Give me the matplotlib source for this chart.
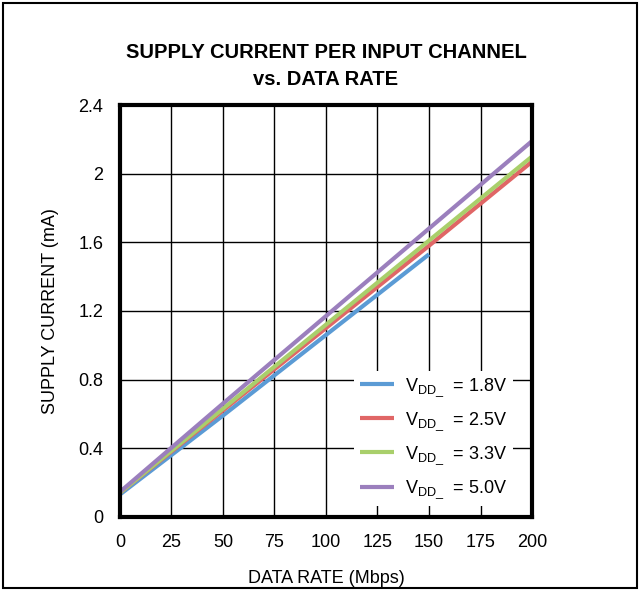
import matplotlib
matplotlib.use("Agg")
import matplotlib.pyplot as plt
from matplotlib.patches import Rectangle

plt.rcParams['font.family'] = ['Liberation Sans', 'DejaVu Sans']
plt.rcParams['mathtext.fontset'] = 'custom'
plt.rcParams['mathtext.rm'] = 'Liberation Sans'
plt.rcParams['mathtext.it'] = 'Liberation Sans'

rate = [0, 50, 100, 150, 200]
rate_18 = [0, 50, 100, 150]
i_18 = [0.13, 0.59, 1.06, 1.53]
i_25 = [0.14, 0.62, 1.10, 1.58, 2.07]
i_33 = [0.14, 0.63, 1.12, 1.61, 2.10]
i_50 = [0.145, 0.66, 1.17, 1.68, 2.19]
labels = [r'V$_{\mathregular{DD\_}}$  = 1.8V', r'V$_{\mathregular{DD\_}}$  = 2.5V',
          r'V$_{\mathregular{DD\_}}$  = 3.3V', r'V$_{\mathregular{DD\_}}$  = 5.0V']
colors = ['#5b9bd5', '#e06666', '#a9cf6b', '#9b7fbd']
xticks = [0, 25, 50, 75, 100, 125, 150, 175, 200]
yticks = [0, 0.4, 0.8, 1.2, 1.6, 2.0, 2.4]
yticklabels = ['0', '0.4', '0.8', '1.2', '1.6', '2', '2.4']

fig = plt.figure(figsize=(6.41, 5.90), dpi=100)
ax = fig.add_axes([0.187, 0.124, 0.643, 0.698])

ax.plot(rate_18, i_18, color=colors[0], lw=3, label=labels[0], solid_capstyle='butt')
ax.plot(rate, i_25, color=colors[1], lw=3, label=labels[1], solid_capstyle='butt')
ax.plot(rate, i_33, color=colors[2], lw=3, label=labels[2], solid_capstyle='butt')
ax.plot(rate, i_50, color=colors[3], lw=3, label=labels[3], solid_capstyle='butt')

ax.set_xlim(0, 200)
ax.set_ylim(0, 2.4)
ax.set_xticks(xticks)
ax.set_xticklabels([str(x) for x in xticks])
ax.set_yticks(yticks)
ax.set_yticklabels(yticklabels)
ax.tick_params(length=0, labelsize=13, pad=12)
ax.grid(True, color='black', lw=1)
ax.set_axisbelow(True)
for s in ax.spines.values():
    s.set_linewidth(3)
    s.set_color('black')

ax.set_xlabel('DATA RATE (Mbps)', fontsize=13, labelpad=14)
ax.set_ylabel('SUPPLY CURRENT (mA)', fontsize=13, labelpad=14)
fig.text(0.5085, 0.888, 'SUPPLY CURRENT PER INPUT CHANNEL\nvs. DATA RATE', ha='center', va='center',
         fontsize=14.5, fontweight='bold', linespacing=1.55)

leg = ax.legend(loc='lower right', bbox_to_anchor=(0.975, 0.004), frameon=True, fontsize=13,
                handlelength=1.9, labelspacing=0.65, borderpad=0.3, handletextpad=0.6)
leg.get_frame().set_edgecolor('none')
leg.get_frame().set_facecolor('white')
leg.get_frame().set_alpha(1)
leg.get_frame().set_boxstyle('square', pad=0)

fig.patches.append(Rectangle((0.005, 0.003), 0.989, 0.992, transform=fig.transFigure,
                             fill=False, edgecolor='black', lw=1.5))

fig.savefig('out.png', dpi=100)
